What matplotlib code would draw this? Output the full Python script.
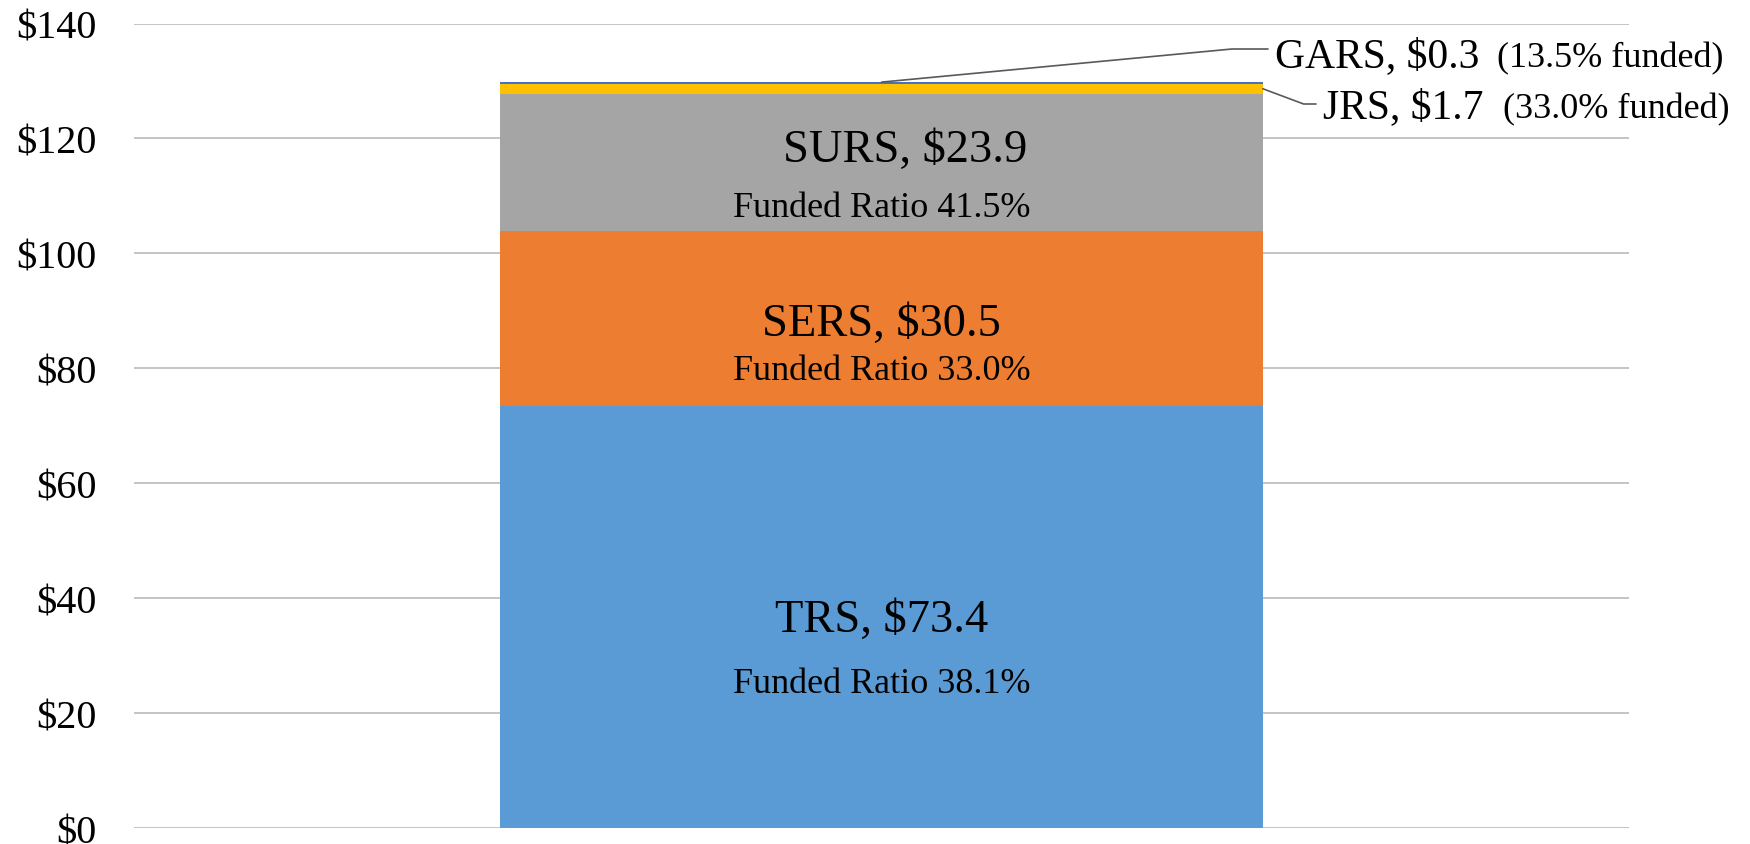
import matplotlib
matplotlib.use("Agg")
import matplotlib.pyplot as plt
from matplotlib.ticker import FuncFormatter

plt.rcParams['font.family'] = ['Liberation Serif', 'DejaVu Serif']

# data ($ billions unfunded liability)
systems = ["TRS", "SERS", "SURS", "JRS", "GARS"]
values = [73.4, 30.5, 23.9, 1.7, 0.3]
funded = [38.1, 33.0, 41.5, 33.0, 13.5]
colors = ["#5B9BD5", "#ED7D31", "#A5A5A5", "#FFC000", "#4472C4"]
yticks = [0, 20, 40, 60, 80, 100, 120, 140]

W, H = 1750, 845
fig = plt.figure(figsize=(W / 100, H / 100), dpi=100)
ax = fig.add_axes([0.0766, 0.0189, 0.8543, 0.9521])

bottom = 0
bottoms = []
for name, v, c in zip(systems, values, colors):
    ax.bar(0, v, width=0.51, bottom=bottom, color=c, zorder=2)
    bottoms.append(bottom)
    bottom += v
total = bottom

ax.set_xlim(-0.5, 0.5)
ax.set_ylim(0, 140)
ax.set_yticks(yticks)
ax.yaxis.set_major_formatter(FuncFormatter(lambda v, p: f"${v:.0f}"))
ax.tick_params(axis='y', length=0, labelsize=29, pad=27)
ax.set_xticks([])
ax.grid(axis='y', color='#BFBFBF', linewidth=1.3, zorder=0)
for s in ax.spines.values():
    s.set_visible(False)

# labels inside the three big segments: (x shift, name offset, ratio offset)
offsets = [(0.0, -0.5, -11.5), (0.0, -0.9, -9.0), (0.016, 2.2, -7.8)]
for i, (dx, d1, d2) in enumerate(offsets):
    mid = bottoms[i] + values[i] / 2
    ax.text(dx, mid + d1, f"{systems[i]}, ${values[i]:.1f}", ha='center',
            va='center', fontsize=33.5, zorder=3)
    ax.text(0, mid + d2, f"Funded Ratio {funded[i]:.1f}%", ha='center',
            va='center', fontsize=26, zorder=3)

# small systems, labelled outside with leader lines
line_kw = dict(arrowstyle='-', color='#595959', lw=1.2, shrinkA=0, shrinkB=0)
ax.annotate("", xy=(0, total), xytext=(1268, H - 50), textcoords='figure pixels',
            arrowprops=dict(connectionstyle="angle,angleA=0,angleB=5.4,rad=0", **line_kw))
ax.annotate("", xy=(0.255, bottoms[3] + values[3] / 2), xytext=(1316, H - 105),
            textcoords='figure pixels',
            arrowprops=dict(connectionstyle="angle,angleA=0,angleB=-20.5,rad=0", **line_kw))

fig.text(1275 / W, 1 - 67 / H, f"GARS, ${values[4]:.1f}", ha='left', va='baseline', fontsize=30)
fig.text(1497 / W, 1 - 67 / H, f"({funded[4]:.1f}% funded)", ha='left', va='baseline', fontsize=26)
fig.text(1323 / W, 1 - 118 / H, f"JRS, ${values[3]:.1f}", ha='left', va='baseline', fontsize=30)
fig.text(1503 / W, 1 - 118 / H, f"({funded[3]:.1f}% funded)", ha='left', va='baseline', fontsize=26)

fig.savefig("out.png", dpi=100)
